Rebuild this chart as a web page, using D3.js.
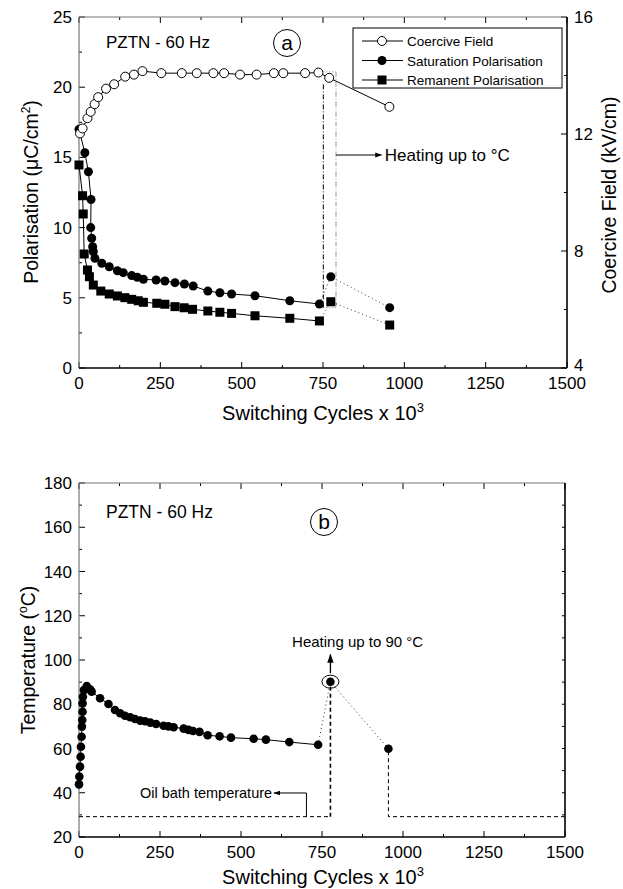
<!DOCTYPE html>
<html>
<head>
<meta charset="utf-8">
<script src="https://cdn.jsdelivr.net/npm/d3@7"></script>
<style>
  body { margin: 0; background: #fff; }
  svg text { font-family: "Liberation Sans", Arial, sans-serif; fill: #000; }
</style>
</head>
<body>
<svg id="chart" width="623" height="889"></svg>
<script>
// panel (a) - cycles x 10^3
const cfCycles = [3, 11, 26, 36, 48, 59, 83, 108, 142, 169, 195, 253, 316, 362, 413, 446, 495, 546, 599, 628, 695, 736, 769, 954];
const cfField = [12.02, 12.19, 12.54, 12.76, 13.02, 13.26, 13.55, 13.70, 13.96, 14.03, 14.15, 14.08, 14.08, 14.08, 14.08, 14.08, 14.03, 14.03, 14.08, 14.08, 14.08, 14.10, 13.92, 12.93];

const spCycles = [0, 18, 29, 37, 36, 39, 42, 44, 49, 70, 93, 118, 136, 162, 179, 198, 237, 264, 295, 324, 351, 396, 433, 469, 541, 648, 739, 774, 955];
const spPol = [17.0, 15.33, 13.98, 12.0, 10.0, 9.24, 8.64, 8.28, 7.81, 7.46, 7.21, 6.93, 6.79, 6.58, 6.46, 6.32, 6.27, 6.2, 6.08, 5.98, 5.84, 5.48, 5.36, 5.27, 5.15, 4.79, 4.56, 6.5, 4.3];

const rpCycles = [0, 11, 13, 16, 26, 32, 44, 67, 93, 118, 141, 162, 182, 198, 239, 264, 295, 323, 349, 396, 433, 469, 541, 648, 739, 774, 955];
const rpPol = [14.46, 12.27, 10.97, 8.12, 6.98, 6.5, 5.91, 5.48, 5.27, 5.13, 5.01, 4.89, 4.79, 4.68, 4.61, 4.54, 4.37, 4.29, 4.18, 4.06, 3.97, 3.89, 3.72, 3.54, 3.35, 4.72, 3.06];

// panel (b)
const tCycles = [0, 1, 3, 5, 6, 8, 9, 10, 11, 11, 12, 15, 24, 34, 39, 65, 91, 111, 127, 142, 158, 173, 189, 204, 220, 238, 261, 276, 292, 323, 338, 352, 372, 397, 434, 469, 539, 577, 649, 738, 776, 955];
const tTemp = [43.8, 47.3, 51.8, 56.3, 60.8, 65.3, 69.9, 72.9, 76.6, 80.4, 83.4, 86.4, 88.2, 86.8, 85.7, 82.7, 80.1, 77.4, 75.9, 74.8, 74.1, 73.3, 72.6, 72.3, 71.7, 71.1, 70.3, 70.0, 69.6, 69.0, 68.4, 67.9, 67.5, 66.0, 65.5, 64.9, 64.4, 64.0, 62.9, 61.7, 90.2, 59.9];

const xTicks = [0, 250, 500, 750, 1000, 1250, 1500];
const polTicks = [0, 5, 10, 15, 20, 25];
const cfTicks = [4, 8, 12, 16];
const tempTicks = [20, 40, 60, 80, 100, 120, 140, 160, 180];
const legendLabels = ["Coercive Field", "Saturation Polarisation", "Remanent Polarisation"];

const oilBath = 29.2;

const svg = d3.select("#chart");

function axesFrame(g, x, yL, yR, xt, ytL, ytR, minorL, minorR) {
    const [x0, x1] = x.range();
    const [y0, y1] = yL.range();
    const xMinor = d3.range(125, 1500, 250);
    const tick = (xs, len) => {
        xs.forEach(v => {
            g.append("line").attr("x1", x(v)).attr("x2", x(v)).attr("y1", y0).attr("y2", y0 - len).attr("stroke", "#000");
            g.append("line").attr("x1", x(v)).attr("x2", x(v)).attr("y1", y1).attr("y2", y1 + len).attr("stroke", "#000");
        });
    };
    tick(xt, 6);
    tick(xMinor, 3);
    ytL.forEach(v => g.append("line").attr("x1", x0).attr("x2", x0 + 6).attr("y1", yL(v)).attr("y2", yL(v)).attr("stroke", "#000"));
    minorL.forEach(v => g.append("line").attr("x1", x0).attr("x2", x0 + 3).attr("y1", yL(v)).attr("y2", yL(v)).attr("stroke", "#000"));
    ytR.forEach(v => g.append("line").attr("x1", x1).attr("x2", x1 - 6).attr("y1", yR(v)).attr("y2", yR(v)).attr("stroke", "#000"));
    minorR.forEach(v => g.append("line").attr("x1", x1).attr("x2", x1 - 3).attr("y1", yR(v)).attr("y2", yR(v)).attr("stroke", "#000"));
    // frame
    g.append("line").attr("x1", x0).attr("x2", x0).attr("y1", y0).attr("y2", y1).attr("stroke", "#777").attr("stroke-width", 1.2);
    g.append("line").attr("x1", x0).attr("x2", x1).attr("y1", y1).attr("y2", y1).attr("stroke", "#777").attr("stroke-width", 1.2);
    g.append("line").attr("x1", x1).attr("x2", x1).attr("y1", y0).attr("y2", y1).attr("stroke", "#000").attr("stroke-width", 1.6);
    g.append("line").attr("x1", x0).attr("x2", x1).attr("y1", y0).attr("y2", y0).attr("stroke", "#000").attr("stroke-width", 1.6);
    // labels
    xt.forEach(v => g.append("text").attr("x", x(v)).attr("y", y0 + 21).attr("text-anchor", "middle").attr("font-size", 17).text(v));
    ytL.forEach(v => g.append("text").attr("x", x0 - 7).attr("y", yL(v) + 6).attr("text-anchor", "end").attr("font-size", 17).text(v));
}

function xTitle(g, cx, y) {
    const t = g.append("text").attr("x", cx).attr("y", y).attr("text-anchor", "middle").attr("font-size", 20);
    t.append("tspan").text("Switching Cycles x 10");
    t.append("tspan").attr("dy", -8).attr("font-size", 13).text("3");
}

function circledLetter(g, cx, cy, letter) {
    g.append("circle").attr("cx", cx).attr("cy", cy).attr("r", 13.5).attr("fill", "none").attr("stroke", "#000");
    g.append("text").attr("x", cx).attr("y", cy + 7).attr("text-anchor", "middle").attr("font-size", 21).text(letter);
}

svg.append("defs").append("marker")
    .attr("id", "arr").attr("viewBox", "0 0 10 10").attr("refX", 9).attr("refY", 5)
    .attr("markerWidth", 7).attr("markerHeight", 7).attr("orient", "auto-start-reverse")
    .append("path").attr("d", "M0,1.5L10,5L0,8.5Z").attr("fill", "#000");

// ---------------- panel (a)
const xa = d3.scaleLinear().domain([0, 1500]).range([79, 567]);
const ya = d3.scaleLinear().domain([0, 25]).range([368, 17]);
const yc = d3.scaleLinear().domain([4, 16]).range([368, 17]);
const ga = svg.append("g");

axesFrame(ga, xa, ya, yc, xTicks, polTicks, cfTicks, d3.range(2.5, 25, 5), [6, 10, 14]);
cfTicks.forEach(v => ga.append("text").attr("x", 574).attr("y", yc(v) + (v === 4 ? 3 : 6)).attr("font-size", 17).text(v));
xTitle(ga, 323, 420);

const yTitleA = ga.append("text").attr("transform", "translate(38,192) rotate(-90)").attr("text-anchor", "middle").attr("font-size", 19.5);
yTitleA.append("tspan").text("Polarisation (\u03bcC/cm");
yTitleA.append("tspan").attr("dy", -8).attr("font-size", 12).text("2");
yTitleA.append("tspan").attr("dy", 8).text(")");
ga.append("text").attr("transform", "translate(616,195) rotate(-90)").attr("text-anchor", "middle").attr("font-size", 19.5).text("Coercive Field (kV/cm)");

ga.append("text").attr("x", 106).attr("y", 48).attr("font-size", 17).text("PZTN - 60 Hz");
circledLetter(ga, 287, 43, "a");

// heating box
const hx0 = 751, hx1 = 790, hTop = 21.1, hBot = 4.3;
ga.append("line").attr("x1", xa(hx0)).attr("x2", xa(hx0)).attr("y1", ya(20.2)).attr("y2", ya(hBot))
    .attr("stroke", "#000").attr("stroke-dasharray", "5,2,1,2");
ga.append("line").attr("x1", xa(hx1)).attr("x2", xa(hx1)).attr("y1", ya(hTop)).attr("y2", ya(hBot))
    .attr("stroke", "#999").attr("stroke-dasharray", "5,2,1,2");
ga.append("line").attr("x1", xa(hx0)).attr("x2", xa(hx1)).attr("y1", ya(hTop)).attr("y2", ya(hTop))
    .attr("stroke", "#999").attr("stroke-dasharray", "1,2");
ga.append("line").attr("x1", xa(hx0)).attr("x2", xa(hx1)).attr("y1", ya(hBot)).attr("y2", ya(hBot))
    .attr("stroke", "#777").attr("stroke-dasharray", "1,2");
ga.append("line").attr("x1", xa(hx1)).attr("x2", xa(930)).attr("y1", ya(15.17)).attr("y2", ya(15.17))
    .attr("stroke", "#000").attr("marker-end", "url(#arr)");
const ht = ga.append("text").attr("x", xa(940)).attr("y", ya(15.17) + 6).attr("font-size", 17);
ht.append("tspan").text("Heating up to ");
ht.append("tspan").text("\u00b0C");

const lineA = (xs, ys, yS) => d3.line().x(i => xa(xs[i])).y(i => yS(ys[i]));
function series(xs, ys, yS, split) {
    const idx = d3.range(xs.length);
    const solid = split ? idx.slice(0, split) : idx;
    ga.append("path").datum(solid).attr("d", lineA(xs, ys, yS)).attr("fill", "none").attr("stroke", "#000").attr("stroke-width", 1);
    if (split) {
        ga.append("path").datum(idx.slice(split - 1)).attr("d", lineA(xs, ys, yS)).attr("fill", "none")
            .attr("stroke", "#333").attr("stroke-width", 1).attr("stroke-dasharray", "1,3");
    }
}
series(spCycles, spPol, ya, spCycles.length - 2);
series(rpCycles, rpPol, ya, rpCycles.length - 2);
series(cfCycles, cfField, yc, 0);

ga.selectAll(".sp").data(spCycles).join("circle").attr("cx", d => xa(d)).attr("cy", (d, i) => ya(spPol[i])).attr("r", 4.5).attr("fill", "#000");
ga.selectAll(".rp").data(rpCycles).join("rect").attr("x", d => xa(d) - 4.5).attr("y", (d, i) => ya(rpPol[i]) - 4.5)
    .attr("width", 9).attr("height", 9).attr("fill", "#000");
ga.selectAll(".cf").data(cfCycles).join("circle").attr("cx", d => xa(d)).attr("cy", (d, i) => yc(cfField[i])).attr("r", 4.5)
    .attr("fill", "#fff").attr("stroke", "#000").attr("stroke-width", 1);

// legend
const lg = ga.append("g");
lg.append("rect").attr("x", 353).attr("y", 28).attr("width", 209).attr("height", 60).attr("fill", "#fff").attr("stroke", "#000");
legendLabels.forEach((lab, i) => {
    const y = 41 + i * 19.5;
    lg.append("line").attr("x1", 362).attr("x2", 403).attr("y1", y).attr("y2", y).attr("stroke", "#000");
    if (i === 0) lg.append("circle").attr("cx", 382).attr("cy", y).attr("r", 4.5).attr("fill", "#fff").attr("stroke", "#000");
    if (i === 1) lg.append("circle").attr("cx", 382).attr("cy", y).attr("r", 4.5).attr("fill", "#000");
    if (i === 2) lg.append("rect").attr("x", 377.5).attr("y", y - 4.5).attr("width", 9).attr("height", 9).attr("fill", "#000");
    lg.append("text").attr("x", 407).attr("y", y + 5).attr("font-size", 13.5).text(lab);
});

// ---------------- panel (b)
const xb = d3.scaleLinear().domain([0, 1500]).range([79, 565]);
const yb = d3.scaleLinear().domain([20, 180]).range([837, 483]);
const gb = svg.append("g");
axesFrame(gb, xb, yb, yb, xTicks, tempTicks, [], d3.range(30, 180, 20), d3.range(30, 180, 10));
xTitle(gb, 323, 884);
const yTitleB = gb.append("text").attr("transform", "translate(35,660) rotate(-90)").attr("text-anchor", "middle").attr("font-size", 19.5);
yTitleB.append("tspan").text("Temperature (");
yTitleB.append("tspan").attr("dy", -8).attr("font-size", 12).text("o");
yTitleB.append("tspan").attr("dy", 8).text("C)");

gb.append("text").attr("x", 106).attr("y", 518).attr("font-size", 17.5).text("PZTN - 60 Hz");
circledLetter(gb, 324, 522, "b");

// oil bath baseline
const hi = tCycles.length - 2, last = tCycles.length - 1;
gb.append("path").attr("d", `M${xb(0)},${yb(oilBath)}H${xb(tCycles[hi])}`).attr("fill", "none").attr("stroke", "#000").attr("stroke-dasharray", "4,3");
gb.append("path").attr("d", `M${xb(tCycles[hi])},${yb(oilBath)}V${yb(tTemp[hi])}`).attr("fill", "none").attr("stroke", "#000").attr("stroke-width", 1.6).attr("stroke-dasharray", "4,3");
gb.append("path").attr("d", `M${xb(1500)},${yb(oilBath)}H${xb(tCycles[last])}V${yb(tTemp[last])}`).attr("fill", "none").attr("stroke", "#000").attr("stroke-dasharray", "4,3");

// oil bath label + arrow
gb.append("path").attr("d", `M${xb(702)},${yb(oilBath)}V${yb(39.9)}H${xb(602)}`).attr("fill", "none").attr("stroke", "#000").attr("marker-end", "url(#arr)");
gb.append("text").attr("x", xb(596)).attr("y", yb(39.9) + 5).attr("text-anchor", "end").attr("font-size", 14.5).text("Oil bath temperature");

const lineB = d3.line().x(i => xb(tCycles[i])).y(i => yb(tTemp[i]));
gb.append("path").datum(d3.range(hi)).attr("d", lineB).attr("fill", "none").attr("stroke", "#000");
gb.append("path").datum([hi - 1, hi, last]).attr("d", lineB).attr("fill", "none").attr("stroke", "#333").attr("stroke-dasharray", "1,3");
gb.selectAll(".tp").data(tCycles).join("circle").attr("cx", d => xb(d)).attr("cy", (d, i) => yb(tTemp[i])).attr("r", 4.3).attr("fill", "#000");

// heating annotation
gb.append("ellipse").attr("cx", xb(tCycles[hi])).attr("cy", yb(tTemp[hi])).attr("rx", 8.5).attr("ry", 6.5).attr("fill", "none").attr("stroke", "#000");
gb.append("line").attr("x1", xb(tCycles[hi])).attr("x2", xb(tCycles[hi])).attr("y1", yb(94)).attr("y2", yb(102.5))
    .attr("stroke", "#000").attr("stroke-width", 1.3).attr("marker-end", "url(#arr)");
gb.append("text").attr("x", xb(860)).attr("y", yb(105.9)).attr("text-anchor", "middle").attr("font-size", 15).text("Heating up to 90 \u00b0C");
</script>
</body>
</html>
